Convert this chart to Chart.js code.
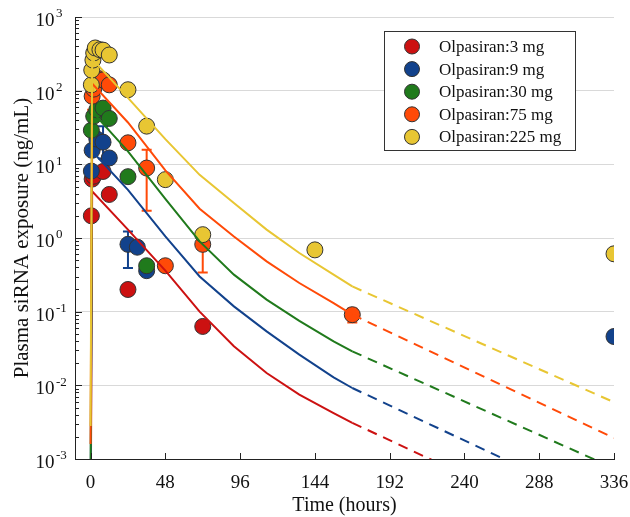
<!DOCTYPE html>
<html lang="en">
<head>
  <meta charset="UTF-8">
  <title>Olpasiran plasma exposure</title>
  <script src="https://cdn.jsdelivr.net/npm/chart.js@4.4.1/dist/chart.umd.min.js"></script>
  <style>
    html, body { margin: 0; padding: 0; background: #fff; }
  </style>
</head>
<body>
  <canvas id="pkChart" width="630" height="517"></canvas>

  <script>
    const doseLabels = ['Olpasiran:3 mg', 'Olpasiran:9 mg', 'Olpasiran:30 mg', 'Olpasiran:75 mg', 'Olpasiran:225 mg'];
    const doseColors = ['#cc1111', '#12428c', '#207a1c', '#ff4a08', '#e8c633'];

    // observed means (ng/mL)
    const obsTime3 = [0.5, 1, 2, 8, 12, 24, 72];
    const obsConc3 = [2.0, 6.3, 6.9, 8.0, 3.9, 0.2, 0.063];
    const obsTime9 = [0.5, 1, 4, 8, 12, 24, 30, 36, 336];
    const obsConc9 = [8.1, 15.5, 22, 20, 12.2, 0.82, 0.75, 0.36, 0.046];
    const obsTime30 = [0.5, 2, 4, 8, 12, 24, 36];
    const obsConc30 = [29, 45, 55, 58, 42, 6.8, 0.42];
    const obsTime75 = [1, 2, 6, 8, 12, 24, 36, 48, 72, 168];
    const obsConc75 = [84, 105, 145, 140, 120, 19.6, 8.9, 0.42, 0.82, 0.091];
    const obsTime225 = [0.5, 0.75, 1.5, 2, 3, 6, 8, 12, 24, 36, 48, 72, 144, 336];
    const obsConc225 = [120, 190, 260, 325, 380, 360, 355, 305, 103, 33, 6.2, 1.11, 0.69, 0.61];

    // error bars
    const errDose = [3, 3, 3, 1, 3, 3, 1];
    const errTime = [36, 72, 168, 24, 6, 1, 8];
    const errLow = [2.35, 0.34, 0.071, 0.39, 120, 55, 12];
    const errHigh = [15.8, 1.3, 0.11, 1.23, 177, 105, 33];

    // model prediction, solid up to 168 h
    const modelTime = [0, 1, 24, 48, 70, 92, 113, 134, 156, 168];
    const model3 = [0.00005, 4.3, 1.3, 0.36, 0.1, 0.034, 0.0147, 0.0075, 0.0042, 0.0031];
    const model9 = [0.00015, 15, 4.5, 1.05, 0.30, 0.118, 0.054, 0.0261, 0.0128, 0.0092];
    const model30 = [0.0005, 52, 15, 3.4, 0.9, 0.318, 0.146, 0.075, 0.0395, 0.0289];
    const model75 = [0.0016, 125, 37, 8.3, 2.5, 1.05, 0.481, 0.245, 0.131, 0.091];
    const model225 = [0.0028, 270, 80, 22, 7.2, 2.98, 1.30, 0.625, 0.318, 0.22];

    // extrapolation, dashed
    const tailTime = [168, 336];
    const tail3 = [0.0031, 0.000068];
    const tail9 = [0.0092, 0.0002];
    const tail30 = [0.0289, 0.00075];
    const tail75 = [0.091, 0.00193];
    const tail225 = [0.22, 0.0059];

    const xTicks = [0, 48, 96, 144, 192, 240, 288, 336];
    const yDecades = [-3, -2, -1, 0, 1, 2, 3];

    const obsTimes = [obsTime3, obsTime9, obsTime30, obsTime75, obsTime225];
    const obsConcs = [obsConc3, obsConc9, obsConc30, obsConc75, obsConc225];
    const modelConcs = [model3, model9, model30, model75, model225];
    const tailConcs = [tail3, tail9, tail30, tail75, tail225];

    const serif = '"Liberation Serif", "Times New Roman", serif';
    const toPoints = (xs, ys) => xs.map((t, i) => ({ x: t, y: ys[i] }));

    // first dataset is painted last, so lines go first and 225 mg sits on top
    const stack = [4, 3, 2, 1, 0];
    const datasets = [];
    stack.forEach(d => datasets.push({
      label: doseLabels[d] + ' model',
      data: toPoints(modelTime, modelConcs[d]),
      showLine: true, borderColor: doseColors[d], borderWidth: 2,
      pointRadius: 0, tension: 0
    }));
    stack.forEach(d => datasets.push({
      label: doseLabels[d] + ' extrapolated',
      data: toPoints(tailTime, tailConcs[d]),
      showLine: true, borderColor: doseColors[d], borderWidth: 2,
      borderDash: [10, 7], pointRadius: 0, tension: 0
    }));
    stack.forEach(d => datasets.push({
      label: doseLabels[d],
      data: toPoints(obsTimes[d], obsConcs[d]),
      showLine: false, pointRadius: 8, pointHoverRadius: 8,
      backgroundColor: doseColors[d], borderColor: '#333', borderWidth: 1
    }));

    const pkDecor = {
      id: 'pkDecor',
      beforeDatasetsDraw(chart) {
        const { ctx, scales: { x, y } } = chart;
        ctx.save();
        ctx.lineWidth = 2;
        for (let i = 0; i < errTime.length; i++) {
          const px = x.getPixelForValue(errTime[i]);
          const top = y.getPixelForValue(errHigh[i]);
          const bot = y.getPixelForValue(errLow[i]);
          ctx.strokeStyle = doseColors[errDose[i]];
          ctx.beginPath();
          ctx.moveTo(px, top); ctx.lineTo(px, bot);
          ctx.moveTo(px - 5, top); ctx.lineTo(px + 5, top);
          ctx.moveTo(px - 5, bot); ctx.lineTo(px + 5, bot);
          ctx.stroke();
        }
        ctx.restore();
      },
      afterDraw(chart) {
        const { ctx, chartArea, scales: { x, y } } = chart;
        ctx.save();

        // inside tick marks
        ctx.strokeStyle = '#222';
        ctx.lineWidth = 1;
        ctx.beginPath();
        yDecades.forEach(e => {
          for (let k = 1; k <= 9; k++) {
            if (e === 3 && k > 1) break;
            const py = Math.round(y.getPixelForValue(k * Math.pow(10, e))) + 0.5;
            ctx.moveTo(chartArea.left, py);
            ctx.lineTo(chartArea.left + (k === 1 ? 7 : 4), py);
          }
        });
        xTicks.forEach(t => {
          const px = Math.round(x.getPixelForValue(t)) + 0.5;
          ctx.moveTo(px, chartArea.bottom);
          ctx.lineTo(px, chartArea.bottom - 6);
        });
        ctx.stroke();

        // y tick labels as 10 with a raised exponent
        ctx.fillStyle = '#111';
        ctx.textAlign = 'left';
        ctx.textBaseline = 'middle';
        yDecades.forEach(e => {
          const py = y.getPixelForValue(Math.pow(10, e));
          ctx.font = '19px ' + serif;
          ctx.fillText('10', 35.5, py + 4);
          const w = ctx.measureText('10').width;
          ctx.font = '13px ' + serif;
          ctx.fillText(String(e), 35.5 + w + 1.5, py - 3);
        });

        // legend
        const lx = 384.5, ly = 31.5, lw = 191, lh = 119;
        ctx.fillStyle = '#fff';
        ctx.fillRect(lx, ly, lw, lh);
        ctx.strokeStyle = '#333';
        ctx.strokeRect(lx, ly, lw, lh);
        doseLabels.forEach((lab, i) => {
          const cy = 46.5 + i * 22.6;
          ctx.beginPath();
          ctx.arc(412, cy, 7.5, 0, 2 * Math.PI);
          ctx.fillStyle = doseColors[i];
          ctx.fill();
          ctx.strokeStyle = '#333';
          ctx.stroke();
          ctx.fillStyle = '#111';
          ctx.font = '17px ' + serif;
          ctx.fillText(lab, 439, cy + 1);
        });
        ctx.restore();
      }
    };

    new Chart(document.getElementById('pkChart'), {
      type: 'scatter',
      data: { datasets: datasets },
      options: {
        responsive: false,
        animation: false,
        devicePixelRatio: 1,
        layout: { padding: { top: 17, right: 16, left: 0, bottom: 0 } },
        plugins: { legend: { display: false }, tooltip: { enabled: false } },
        scales: {
          x: {
            type: 'linear', min: -10, max: 336,
            afterBuildTicks: s => { s.ticks = xTicks.map(v => ({ value: v })); },
            afterFit: s => { s.height = 58; s.paddingLeft = 0; s.paddingRight = 0; },
            grid: { display: false },
            border: { display: true, color: '#222', width: 1 },
            ticks: { font: { family: serif, size: 19 }, color: '#111', padding: 5, maxRotation: 0, autoSkip: false },
            title: { display: true, text: 'Time (hours)', color: '#111',
                     font: { family: serif, size: 20, lineHeight: 1.1 }, padding: { top: 0, bottom: 0 } }
          },
          y: {
            type: 'logarithmic', min: 0.001, max: 1000,
            afterBuildTicks: s => { s.ticks = yDecades.map(e => ({ value: Math.pow(10, e) })); },
            afterFit: s => { s.width = 75; s.paddingTop = 0; s.paddingBottom = 0; },
            grid: {
              color: c => (c.tick && c.tick.value < 0.0011) ? 'rgba(0,0,0,0)' : '#d9d9d9',
              drawTicks: false
            },
            border: { display: true, color: '#222', width: 1 },
            ticks: { display: false },
            title: { display: true, text: 'Plasma siRNA exposure (ng/mL)', color: '#111',
                     font: { family: serif, size: 21, lineHeight: 1.1 }, padding: { top: 11, bottom: 0 } }
          }
        }
      },
      plugins: [pkDecor]
    });
  </script>
</body>
</html>
